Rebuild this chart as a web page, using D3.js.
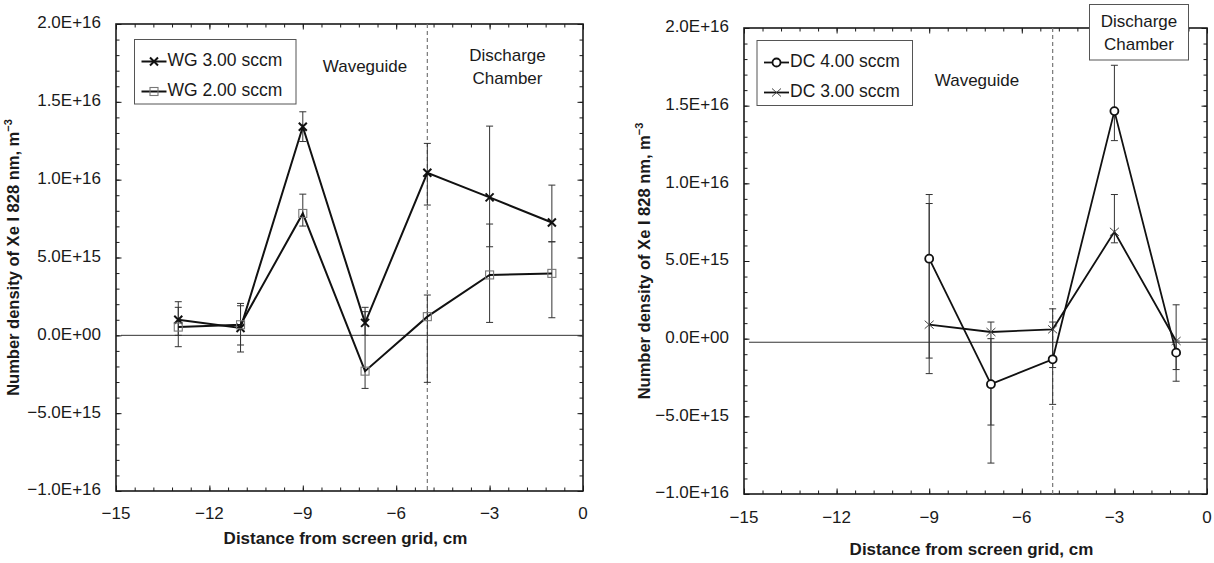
<!DOCTYPE html>
<html><head><meta charset="utf-8">
<script src="https://cdn.jsdelivr.net/npm/d3@7"></script>
<style>
html,body{margin:0;padding:0;background:#fff;}
svg{display:block;font-family:"Liberation Sans",Arial,sans-serif;}
</style></head>
<body>
<svg id="c" width="1214" height="563"></svg>
<script>
// ---------- data ----------
const xTicks = [-15, -12, -9, -6, -3, 0];
const xTickLabels = ["\u221215", "\u221212", "\u22129", "\u22126", "\u22123", "0"];
const yTicks = [2e16, 1.5e16, 1e16, 5e15, 0, -5e15, -1e16];
const yTickLabels = ["2.0E+16", "1.5E+16", "1.0E+16", "5.0E+15", "0.0E+00", "\u22125.0E+15", "\u22121.0E+16"];

// left panel: waveguide injection
const wgX = [-13, -11, -9, -7, -5, -3, -1];
const wg3 = [1.0e15, 0.47e15, 13.4e15, 0.8e15, 10.44e15, 8.86e15, 7.25e15];
const wg3Hi = [2.16e15, 2.05e15, 14.36e15, 1.52e15, 12.33e15, 13.44e15, 9.65e15];
const wg3Lo = [0.0e15, -1.07e15, 12.45e15, 0.0e15, 8.37e15, 5.69e15, 6.01e15];
const wg2 = [0.53e15, 0.68e15, 7.83e15, -2.3e15, 1.2e15, 3.88e15, 3.98e15];
const wg2Hi = [1.80e15, 1.90e15, 9.07e15, 1.80e15, 2.59e15, 7.15e15, 6.01e15];
const wg2Lo = [-0.73e15, -0.62e15, 7.02e15, -3.41e15, -3.02e15, 0.83e15, 1.13e15];

// right panel: discharge chamber injection
const dcX = [-9, -7, -5, -3, -1];
const dc4 = [5.15e15, -2.93e15, -1.33e15, 14.65e15, -0.9e15];
const dc4Hi = [9.28e15, 0.0e15, 1.92e15, 17.6e15, 2.18e15];
const dc4Lo = [-1.25e15, -8.01e15, -4.23e15, 12.75e15, -2.74e15];
const dc3 = [0.9e15, 0.43e15, 0.6e15, 6.88e15, -0.15e15];
const dc3Hi = [8.70e15, 1.07e15, 1.07e15, 9.28e15, -0.15e15];
const dc3Lo = [-2.25e15, -5.56e15, -1.86e15, 6.17e15, -1.99e15];

const regionBoundary = -5;
const leftBaseline = 0;
const rightBaseline = -0.23e15;

// ---------- drawing ----------
const svg = d3.select("#c");
const ink = "#1a1a1a";

const markers = {
  crossBold: g => g.append("path").attr("d", "M-4,-4L4,4M-4,4L4,-4").attr("stroke", "#111").attr("stroke-width", 2).attr("fill", "none"),
  square: g => g.append("rect").attr("x", -4).attr("y", -4).attr("width", 8).attr("height", 8).attr("stroke", "#777").attr("stroke-width", 1.1).attr("fill", "none"),
  circle: g => g.append("circle").attr("r", 4).attr("stroke", "#111").attr("stroke-width", 1.8).attr("fill", "#fff"),
  crossThin: g => g.append("path").attr("d", "M-4.5,-4L4.5,4M-4.5,4L4.5,-4").attr("stroke", "#444").attr("stroke-width", 1).attr("fill", "none")
};

function panel(cfg) {
  const x = d3.scaleLinear().domain([-15, 0]).range([cfg.x0, cfg.x1]);
  const y = d3.scaleLinear().domain([-1e16, 2e16]).range([cfg.y1, cfg.y0]);
  const g = svg.append("g");

  const xMinor = d3.range(0, 26).map(i => -15 + i * 0.6);
  const yMinor = d3.range(-10, 21).map(i => i * 1e15);

  const bottom = d3.axisBottom(x).tickValues(xMinor).tickSize(-3.5).tickFormat("");
  const top = d3.axisTop(x).tickValues(xMinor).tickSize(-3.5).tickFormat("");
  const left = d3.axisLeft(y).tickValues(yMinor).tickSize(-3.5).tickFormat("");
  const right = d3.axisRight(y).tickValues(yMinor).tickSize(-3.5).tickFormat("");
  const bottomM = d3.axisBottom(x).tickValues(xTicks).tickSize(-5.5).tickFormat("");
  const topM = d3.axisTop(x).tickValues(xTicks).tickSize(-5.5).tickFormat("");
  const leftM = d3.axisLeft(y).tickValues(yTicks).tickSize(-5.5).tickFormat("");
  const rightM = d3.axisRight(y).tickValues(yTicks).tickSize(-5.5).tickFormat("");
  [[bottom, `translate(0,${cfg.y1})`], [top, `translate(0,${cfg.y0})`], [left, `translate(${cfg.x0},0)`], [right, `translate(${cfg.x1},0)`],
   [bottomM, `translate(0,${cfg.y1})`], [topM, `translate(0,${cfg.y0})`], [leftM, `translate(${cfg.x0},0)`], [rightM, `translate(${cfg.x1},0)`]]
    .forEach(([ax, tr]) => {
      const a = g.append("g").attr("transform", tr).call(ax);
      a.select(".domain").remove();
      a.selectAll("line").attr("stroke", ink).attr("stroke-width", 1);
    });

  g.append("rect").attr("x", cfg.x0).attr("y", cfg.y0).attr("width", cfg.x1 - cfg.x0).attr("height", cfg.y1 - cfg.y0)
    .attr("fill", "none").attr("stroke", ink).attr("stroke-width", 1.6);

  g.selectAll(".xl").data(xTicks).join("text").attr("x", d => x(d)).attr("y", cfg.y1 + cfg.xlOff)
    .attr("text-anchor", "middle").attr("dominant-baseline", "middle").attr("font-size", 17).attr("fill", ink)
    .text((d, i) => xTickLabels[i]);
  g.selectAll(".yl").data(yTicks).join("text").attr("x", cfg.x0 - 15).attr("y", d => y(d))
    .attr("text-anchor", "end").attr("dominant-baseline", "middle").attr("font-size", 17).attr("fill", ink)
    .text((d, i) => yTickLabels[i]);

  g.append("text").attr("x", (cfg.x0 + cfg.x1) / 2 - 4).attr("y", cfg.xtY).attr("text-anchor", "middle")
    .attr("dominant-baseline", "middle").attr("font-size", 17).attr("font-weight", "bold").attr("fill", ink)
    .text("Distance from screen grid, cm");
  const yt = g.append("text").attr("transform", `translate(${cfg.ytX},${(cfg.y0 + cfg.y1) / 2}) rotate(-90)`)
    .attr("text-anchor", "middle").attr("dominant-baseline", "middle").attr("font-size", 16.5).attr("font-weight", "bold").attr("fill", ink);
  yt.append("tspan").text("Number density of Xe I 828 nm, m");
  yt.append("tspan").attr("font-size", 11).attr("dy", -6).text("\u22123");

  g.append("line").attr("x1", cfg.x0 + 5).attr("x2", cfg.x1).attr("y1", y(cfg.baseline)).attr("y2", y(cfg.baseline))
    .attr("stroke", "#333").attr("stroke-width", 1);
  g.append("line").attr("x1", x(regionBoundary)).attr("x2", x(regionBoundary)).attr("y1", cfg.y0).attr("y2", cfg.y1)
    .attr("stroke", "#777").attr("stroke-width", 1.2).attr("stroke-dasharray", "4,3");

  cfg.series.forEach(s => {
    const eg = g.append("g").attr("stroke", "#333").attr("stroke-width", 1);
    cfg.xs.forEach((xv, i) => {
      const px = x(xv);
      eg.append("line").attr("x1", px).attr("x2", px).attr("y1", y(s.lo[i])).attr("y2", y(s.hi[i]));
      eg.append("line").attr("x1", px - 3.5).attr("x2", px + 3.5).attr("y1", y(s.lo[i])).attr("y2", y(s.lo[i]));
      eg.append("line").attr("x1", px - 3.5).attr("x2", px + 3.5).attr("y1", y(s.hi[i])).attr("y2", y(s.hi[i]));
    });
  });

  cfg.series.forEach(s => {
    const pts = cfg.xs.map((xv, i) => [x(xv), y(s.v[i])]);
    g.append("path").attr("d", d3.line()(pts)).attr("fill", "none").attr("stroke", "#111").attr("stroke-width", s.lw);
    pts.forEach(p => markers[s.marker](g.append("g").attr("transform", `translate(${p[0]},${p[1]})`)));
  });

  const L = cfg.legend;
  g.append("rect").attr("x", L.x).attr("y", L.y).attr("width", L.w).attr("height", L.h)
    .attr("fill", "#fff").attr("stroke", "#555").attr("stroke-width", 1);
  cfg.series.forEach((s, i) => {
    const ly = L.y + 22 + i * 30;
    g.append("line").attr("x1", L.x + 7).attr("x2", L.x + 32).attr("y1", ly).attr("y2", ly)
      .attr("stroke", "#111").attr("stroke-width", s.lw);
    markers[s.marker](g.append("g").attr("transform", `translate(${L.x + 19.5},${ly})`));
    g.append("text").attr("x", L.x + 33).attr("y", ly).attr("dominant-baseline", "middle")
      .attr("font-size", 17.5).attr("fill", ink).text(s.name);
  });

  cfg.notes.forEach(n => {
    if (n.box) {
      g.append("rect").attr("x", n.box[0]).attr("y", n.box[1]).attr("width", n.box[2]).attr("height", n.box[3])
        .attr("fill", "#fff").attr("stroke", "#555").attr("stroke-width", 1);
    }
    n.lines.forEach((t, k) => {
      g.append("text").attr("x", n.x).attr("y", n.y + k * 23).attr("text-anchor", "middle")
        .attr("dominant-baseline", "middle").attr("font-size", 17).attr("fill", ink).text(t);
    });
  });
}

panel({
  x0: 116, x1: 583, y0: 24, y1: 491, xlOff: 24, xtY: 540, ytX: 15, baseline: leftBaseline,
  xs: wgX,
  series: [
    { name: "WG 3.00 sccm", v: wg3, hi: wg3Hi, lo: wg3Lo, marker: "crossBold", lw: 2 },
    { name: "WG 2.00 sccm", v: wg2, hi: wg2Hi, lo: wg2Lo, marker: "square", lw: 2 }
  ],
  legend: { x: 134.5, y: 39.5, w: 161.5, h: 64.5 },
  notes: [
    { x: 365, y: 68, lines: ["Waveguide"] },
    { x: 507.5, y: 56.5, lines: ["Discharge", "Chamber"] }
  ]
});

panel({
  x0: 744, x1: 1207, y0: 28, y1: 494, xlOff: 25, xtY: 551, ytX: 646, baseline: rightBaseline,
  xs: dcX,
  series: [
    { name: "DC 4.00 sccm", v: dc4, hi: dc4Hi, lo: dc4Lo, marker: "circle", lw: 1.8 },
    { name: "DC 3.00 sccm", v: dc3, hi: dc3Hi, lo: dc3Lo, marker: "crossThin", lw: 1.8 }
  ],
  legend: { x: 757, y: 40.5, w: 155.5, h: 65 },
  notes: [
    { x: 977, y: 82, lines: ["Waveguide"] },
    { x: 1139, y: 22.5, lines: ["Discharge", "Chamber"], box: [1089.5, 4.5, 99, 55.5] }
  ]
});
</script>
</body></html>
